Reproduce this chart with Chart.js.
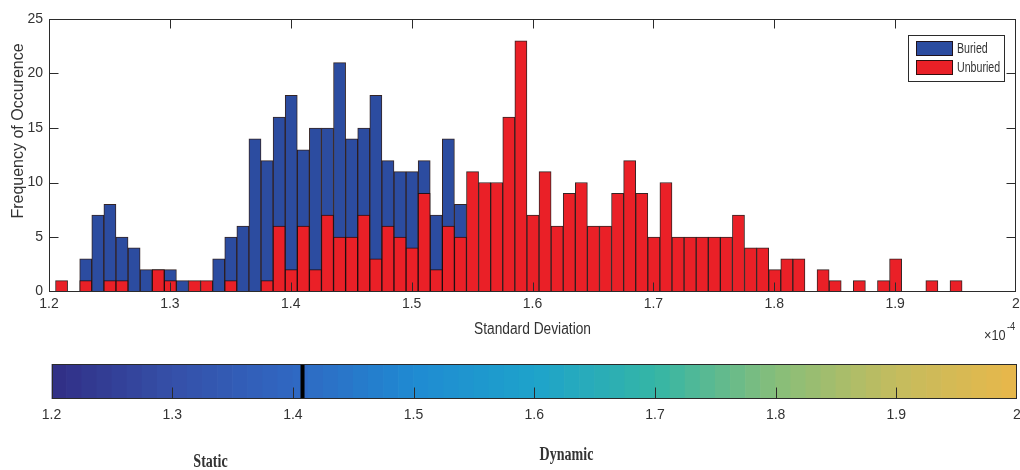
<!DOCTYPE html>
<html>
<head>
<meta charset="utf-8">
<script src="https://cdn.jsdelivr.net/npm/chart.js@4/dist/chart.umd.min.js"></script>
<style>
  html, body { margin: 0; padding: 0; background: #ffffff; }
  #wrap { position: relative; width: 1020px; height: 470px; overflow: hidden; }
  #hist { position: absolute; left: 0; top: 0; }
  #cbar { position: absolute; left: 0; top: 350px; }
</style>
</head>
<body>
<div id="wrap">
  <canvas id="hist" width="1020" height="350"></canvas>
  <canvas id="cbar" width="1020" height="120"></canvas>
</div>
<script>
// ---- Histogram counts per bin (bin width 0.01, in units of 1e-4) ----
const FIRST_BIN_CENTER = 1.2104;
const BIN_WIDTH = 0.01;

const buried = [
  0, 0, 3, 7, 8, 5, 4, 2, 2, 2,
  1, 0, 0, 3, 5, 6, 14, 12, 16, 18,
  13, 15, 15, 21, 14, 15, 18, 12, 11, 11,
  12, 7, 14, 8, 0, 0, 0, 0, 0, 0,
  0, 0, 0, 0, 0, 0, 0, 0, 0, 0,
  0, 0, 0, 0, 0, 0, 0, 0, 0, 0,
  0, 0, 0, 0, 0, 0, 0, 0, 0, 0,
  0, 0, 0, 0, 0
];

const unburied = [
  1, 0, 1, 0, 1, 1, 0, 0, 2, 1,
  0, 1, 1, 0, 1, 0, 0, 1, 6, 2,
  6, 2, 7, 5, 5, 7, 3, 6, 5, 4,
  9, 2, 6, 5, 11, 10, 10, 16, 23, 7,
  11, 6, 9, 10, 6, 6, 9, 12, 9, 5,
  10, 5, 5, 5, 5, 5, 7, 4, 4, 2,
  3, 3, 0, 2, 1, 0, 1, 0, 1, 3,
  0, 0, 1, 0, 1
];

const seriesNames = ['Buried', 'Unburied'];

// Axis ranges
const X_MIN = 1.2, X_MAX = 2.0, X_STEP = 0.1;
const Y_MIN = 0, Y_MAX = 25, Y_STEP = 5;

// Colour bar: range, band count, and the static/dynamic threshold
const CBAR_BANDS = 64;
const THRESHOLD = 1.408;
const regionLabels = ['Static', 'Dynamic'];

// Colormap anchor colours (fraction of range -> colour)
const cmapStops = [
  [0.000, [49, 46, 133]],
  [0.125, [53, 80, 168]],
  [0.250, [48, 103, 194]],
  [0.375, [31, 138, 210]],
  [0.500, [30, 163, 203]],
  [0.625, [52, 181, 166]],
  [0.750, [134, 190, 122]],
  [0.875, [196, 188, 94]],
  [1.000, [232, 183, 74]]
];

// ---- Styling ----
const BLUE = '#2c4ca0';
const RED = '#ea2027';
const EDGE = 'rgba(30,12,12,0.9)';
const AXIS = '#2b2b2b';
const TEXT = '#333333';
const SANS = "'Liberation Sans', Arial, sans-serif";
const SERIF = "'Liberation Serif', 'Times New Roman', serif";

const binCenters = buried.map((_, i) => +(FIRST_BIN_CENTER + i * BIN_WIDTH).toFixed(4));
const fmtTick = v => String(Math.round(v * 10) / 10);

// Horizontally condensed text helper
function drawText(ctx, str, x, y, font, align, sx, baseline) {
  ctx.save();
  ctx.font = font;
  ctx.fillStyle = TEXT;
  ctx.textAlign = align || 'center';
  ctx.textBaseline = baseline || 'middle';
  ctx.translate(x, y);
  ctx.scale(sx || 1, 1);
  ctx.fillText(str, 0, 0);
  ctx.restore();
}

function line(ctx, x1, y1, x2, y2) {
  ctx.beginPath();
  ctx.moveTo(x1, y1);
  ctx.lineTo(x2, y2);
  ctx.stroke();
}

// Keep the plot edges fixed instead of reserving room for end labels
function noLabelPadding(s) {
  s.paddingLeft = 0;
  s.paddingRight = 0;
}

// Boxed axes with inward tick marks on all four sides
const boxedAxes = {
  id: 'boxedAxes',
  afterDatasetsDraw(chart) {
    const { ctx, chartArea: a, scales: { x, y } } = chart;
    const L = Math.round(a.left) + 0.5, R = Math.round(a.right) - 0.5;
    const T = Math.round(a.top) + 0.5, B = Math.round(a.bottom) - 0.5;
    const TICK = 9;
    ctx.save();
    ctx.strokeStyle = AXIS;
    ctx.lineWidth = 1;
    ctx.strokeRect(L, T, R - L, B - T);
    x.ticks.forEach(t => {
      const px = Math.round(x.getPixelForValue(t.value)) + 0.5;
      if (px <= L + 1 || px >= R - 1) return;
      line(ctx, px, B, px, B - TICK);
      line(ctx, px, T, px, T + TICK);
    });
    y.ticks.forEach(t => {
      const py = Math.round(y.getPixelForValue(t.value)) + 0.5;
      if (py <= T + 1 || py >= B - 1) return;
      line(ctx, L, py, L + TICK, py);
      line(ctx, R, py, R - TICK, py);
    });
    ctx.restore();
  }
};

// Legend box inside the plot area, top-right
const insetLegend = {
  id: 'insetLegend',
  afterDraw(chart) {
    const { ctx } = chart;
    const bx = 908, by = 35, bw = 96, bh = 46;
    ctx.save();
    ctx.fillStyle = '#ffffff';
    ctx.fillRect(bx, by, bw, bh);
    ctx.strokeStyle = AXIS;
    ctx.lineWidth = 1;
    ctx.strokeRect(bx + 0.5, by + 0.5, bw, bh);
    const entries = [[seriesNames[0], BLUE], [seriesNames[1], RED]];
    entries.forEach(([name, col], i) => {
      const sy = by + 6 + i * 19;
      ctx.fillStyle = col;
      ctx.fillRect(bx + 8, sy, 37, 15);
      ctx.strokeStyle = EDGE;
      ctx.strokeRect(bx + 8.5, sy + 0.5, 36, 14);
      drawText(ctx, name, bx + 49, sy + 8, '14px ' + SANS, 'left', 0.76);
    });
    ctx.restore();
  }
};

// Axis titles and exponent marker
const axisTitles = {
  id: 'axisTitles',
  afterDraw(chart) {
    const { ctx, chartArea: a } = chart;
    drawText(ctx, 'Standard Deviation', (a.left + a.right) / 2, 330, '16px ' + SANS, 'center', 0.86);
    ctx.save();
    ctx.translate(19, 131);
    ctx.rotate(-Math.PI / 2);
    drawText(ctx, 'Frequency of Occurence', 0, 0, '16px ' + SANS, 'center', 1);
    ctx.restore();
    drawText(ctx, '\u00d710', 984, 336, '15px ' + SANS, 'left', 0.85);
    drawText(ctx, '-4', 1007, 327, '11px ' + SANS, 'left', 0.85);
  }
};

const barStyle = {
  barPercentage: 1,
  categoryPercentage: 1,
  grouped: false,
  borderWidth: 1,
  borderColor: EDGE
};

new Chart(document.getElementById('hist'), {
  type: 'bar',
  data: {
    datasets: [
      Object.assign({
        label: seriesNames[1],
        data: binCenters.map((c, i) => ({ x: c, y: unburied[i] })),
        backgroundColor: RED,
        order: 0
      }, barStyle),
      Object.assign({
        label: seriesNames[0],
        data: binCenters.map((c, i) => ({ x: c, y: buried[i] })),
        backgroundColor: BLUE,
        order: 1
      }, barStyle)
    ]
  },
  options: {
    responsive: false,
    animation: false,
    devicePixelRatio: 1,
    layout: { padding: { left: 0, top: 19, right: 4, bottom: 0 } },
    plugins: { legend: { display: false }, tooltip: { enabled: false } },
    scales: {
      x: {
        type: 'linear',
        min: X_MIN, max: X_MAX,
        offset: false,
        grid: { display: false, drawTicks: false },
        border: { display: false },
        ticks: {
          stepSize: X_STEP, padding: 4, color: TEXT,
          font: { family: SANS, size: 14 },
          maxRotation: 0, autoSkip: false,
          callback: fmtTick
        },
        afterFit(s) { s.height = 58.5; noLabelPadding(s); }
      },
      y: {
        min: Y_MIN, max: Y_MAX,
        grid: { display: false, drawTicks: false },
        border: { display: false },
        ticks: {
          stepSize: Y_STEP, padding: 6, color: TEXT,
          font: { family: SANS, size: 14 }
        },
        afterFit(s) { s.width = 49; s.paddingTop = 0; s.paddingBottom = 0; }
      }
    }
  },
  plugins: [boxedAxes, insetLegend, axisTitles]
});

// ---- Colour bar ----
function cmap(f) {
  for (let i = 1; i < cmapStops.length; i++) {
    const [f1, c1] = cmapStops[i];
    const [f0, c0] = cmapStops[i - 1];
    if (f <= f1) {
      const t = (f - f0) / (f1 - f0);
      const c = c0.map((v, k) => Math.round(v + (c1[k] - v) * t));
      return `rgb(${c[0]},${c[1]},${c[2]})`;
    }
  }
  const c = cmapStops[cmapStops.length - 1][1];
  return `rgb(${c[0]},${c[1]},${c[2]})`;
}
const bandWidth = (X_MAX - X_MIN) / CBAR_BANDS;
const bandCenters = Array.from({ length: CBAR_BANDS }, (_, i) => X_MIN + bandWidth * (i + 0.5));
const bandColors = bandCenters.map((_, i) => cmap((i + 0.5) / CBAR_BANDS));

const cbarFrame = {
  id: 'cbarFrame',
  afterDatasetsDraw(chart) {
    const { ctx, chartArea: a, scales: { x } } = chart;
    const L = Math.round(a.left) + 0.5, R = Math.round(a.right) - 0.5;
    const T = Math.round(a.top) + 0.5, B = Math.round(a.bottom) - 0.5;
    ctx.save();
    ctx.strokeStyle = AXIS;
    ctx.lineWidth = 1;
    ctx.strokeRect(L, T, R - L, B - T);
    x.ticks.forEach(t => {
      const px = Math.round(x.getPixelForValue(t.value)) + 0.5;
      if (px <= L + 1 || px >= R - 1) return;
      line(ctx, px, B, px, B - 11);
    });
    ctx.restore();
  },
  afterDraw(chart) {
    const { ctx } = chart;
    drawText(ctx, regionLabels[0], 210.5, 112, 'bold 18px ' + SERIF, 'center', 0.78);
    drawText(ctx, regionLabels[1], 566.5, 105, 'bold 18px ' + SERIF, 'center', 0.78);
  }
};

new Chart(document.getElementById('cbar'), {
  data: {
    datasets: [
      {
        type: 'line',
        data: [{ x: THRESHOLD, y: 0 }, { x: THRESHOLD, y: 1 }],
        borderColor: '#000000',
        borderWidth: 4,
        pointRadius: 0,
        order: 0
      },
      {
        type: 'bar',
        data: bandCenters.map(c => ({ x: c, y: [0, 1] })),
        backgroundColor: bandColors,
        borderWidth: 0,
        barPercentage: 1,
        categoryPercentage: 1,
        grouped: false,
        order: 1
      }
    ]
  },
  options: {
    responsive: false,
    animation: false,
    devicePixelRatio: 1,
    layout: { padding: { left: 51.5, top: 14, right: 3, bottom: 0 } },
    plugins: { legend: { display: false }, tooltip: { enabled: false } },
    scales: {
      x: {
        type: 'linear',
        min: X_MIN, max: X_MAX,
        offset: false,
        grid: { display: false, drawTicks: false },
        border: { display: false },
        ticks: {
          stepSize: X_STEP, padding: 8, color: TEXT,
          font: { family: SANS, size: 14 },
          maxRotation: 0, autoSkip: false,
          callback: fmtTick
        },
        afterFit(s) { s.height = 71; noLabelPadding(s); }
      },
      y: { type: 'linear', min: 0, max: 1, display: false }
    }
  },
  plugins: [cbarFrame]
});
</script>
</body>
</html>
